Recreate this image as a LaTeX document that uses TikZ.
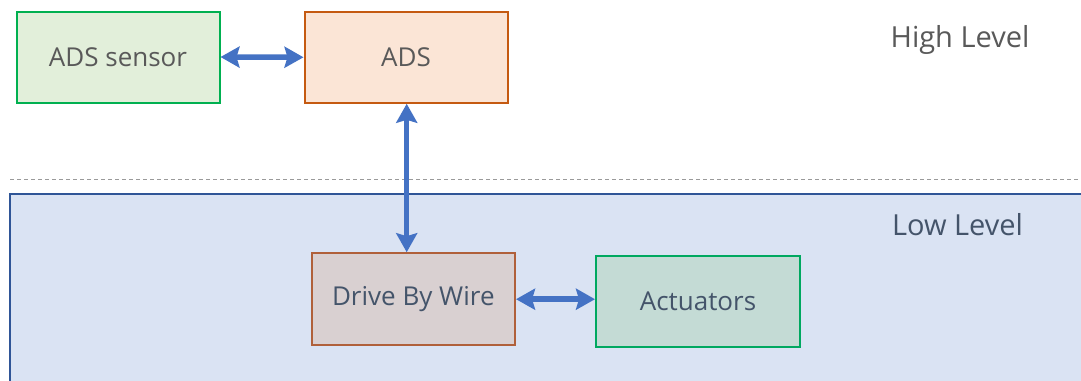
\documentclass[tikz,border=0pt]{standalone}
\usepackage{fontspec}
\setmainfont{Open Sans}
\usetikzlibrary{arrows.meta}
\definecolor{arrowblue}{HTML}{4472C4}
\definecolor{sensorfill}{HTML}{E2EFDA}
\definecolor{greenline}{HTML}{00B050}
\definecolor{adsfill}{HTML}{FBE5D6}
\definecolor{orangeline}{HTML}{C55A11}
\definecolor{dbwfill}{HTML}{D9D0D1}
\definecolor{brownline}{HTML}{B0603A}
\definecolor{actfill}{HTML}{C4DBD5}
\definecolor{actline}{HTML}{00A860}
\definecolor{lowfill}{HTML}{DAE3F3}
\definecolor{lowline}{HTML}{2F5597}
\definecolor{textgray}{HTML}{595959}
\definecolor{textblue}{HTML}{44546A}
\definecolor{dashgray}{HTML}{9A9A9A}
\tikzset{
  blockbox/.style={draw, line width=2pt, minimum width=203pt, minimum height=91pt, inner sep=0pt, font=\fontsize{26}{30}\selectfont},
  levellabel/.style={inner sep=0pt, font=\fontsize{29}{33}\selectfont},
  biarrow/.style={draw=arrowblue, line width=5.5pt, {Stealth[length=19pt,width=21pt,inset=3pt]}-{Stealth[length=19pt,width=21pt,inset=3pt]}},
}
\begin{document}
\begin{tikzpicture}[x=1pt,y=-1pt]
\useasboundingbox (0,0) rectangle (1081,380);
\clip (0,0) rectangle (1081,380);
\fill[white] (0,0) rectangle (1081,380);
% low level region
\draw[fill=lowfill, draw=lowline, line width=2pt] (10,194) rectangle (1100,400);
% dashed separator
\draw[dashgray, line width=1pt, dash pattern=on 4pt off 3pt] (10,179) -- (1081,179);
% nodes
\node[blockbox, fill=sensorfill, draw=greenline, text=textgray] (sensor) at (118,57) {ADS sensor};
\node[blockbox, fill=adsfill, draw=orangeline, text=textgray] (ads) at (406,57.3) {ADS};
\node[blockbox, fill=dbwfill, draw=brownline, text=textblue, minimum width=203.5pt, minimum height=92pt] (dbw) at (413.3,299.2) {Drive By Wire};
\node[blockbox, fill=actfill, draw=actline, text=textblue, minimum width=204pt] (act) at (698,301) {Actuators};
\node[levellabel, text=textgray] (high) at (960,40) {High Level};
\node[levellabel, text=textblue] (low) at (957.5,225) {Low Level};
% connectors
\draw[biarrow] (sensor.east) -- (ads.west);
\draw[biarrow] (ads.south -| 406.7,0) -- (dbw.north -| 406.7,0);
\draw[biarrow] (dbw.east) -- (dbw.east -| act.west);
\end{tikzpicture}
\end{document}
